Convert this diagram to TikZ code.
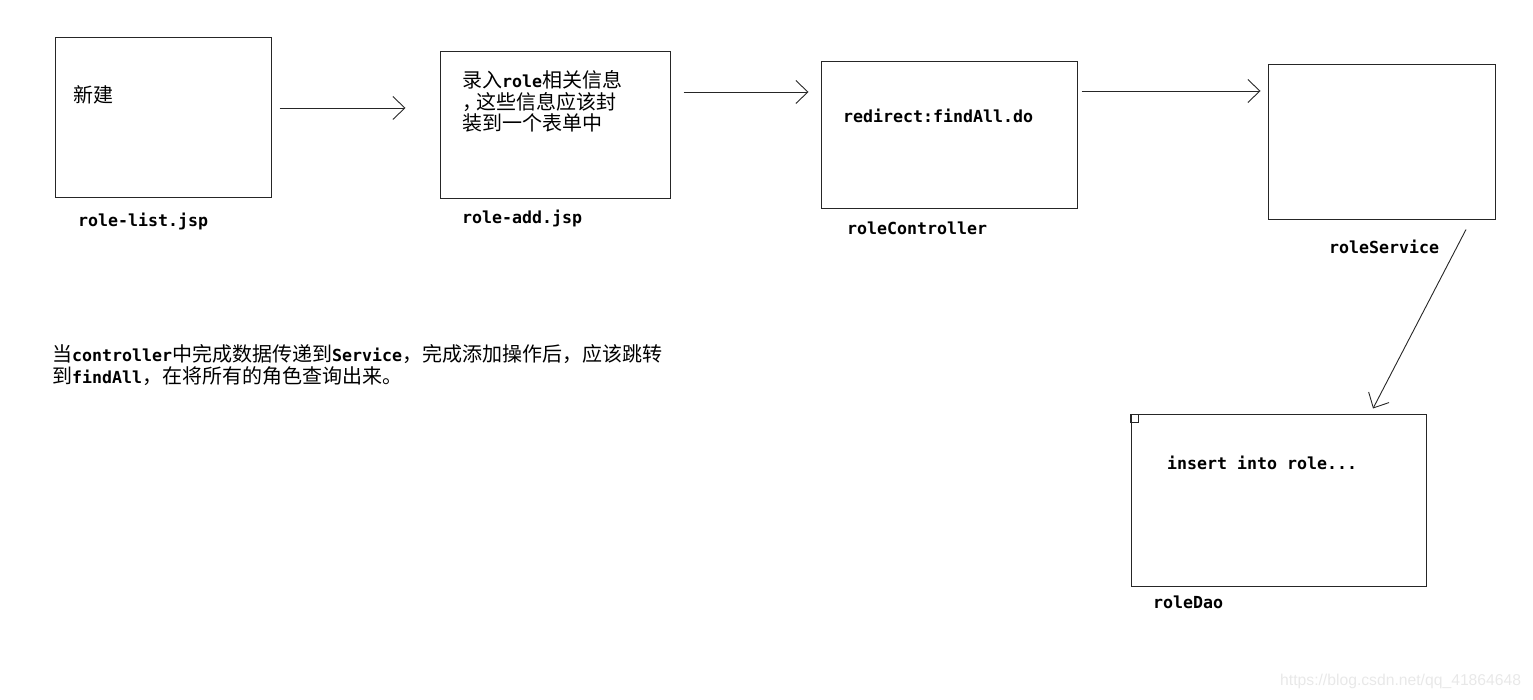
\documentclass[tikz,border=0pt]{standalone}
\usepackage{fontspec}
\setmainfont{Noto Sans CJK SC}
\newfontfamily\monofont{DejaVu Sans Mono}
\newfontfamily\markfont{Liberation Sans}
\newcommand\code[1]{{\monofont\bfseries\fontsize{16.6}{18}\selectfont #1}}
\usetikzlibrary{arrows.meta}

\begin{document}
\begin{tikzpicture}[x=1pt, y=1pt,
  box/.style={draw=black!85, line width=1pt, inner sep=0pt},
  flow/.style={draw=black!85, line width=0.9pt, -{Straight Barb[length=12pt, width=23pt]}},
  txt/.style={anchor=base west, inner sep=0pt, align=left, font=\fontsize{20}{21.5}\selectfont},
  lbl/.style={anchor=base west, inner sep=0pt, font=\monofont\bfseries\fontsize{16.6}{18}\selectfont}]
  \useasboundingbox (0,0) rectangle (1533,699);

  % Les boites
  \node[box, minimum width=216pt, minimum height=160pt] (list) at (163,581) {};
  \node[box, minimum width=230pt, minimum height=147pt] (add) at (555,573.5) {};
  \node[box, minimum width=256pt, minimum height=147pt] (ctrl) at (949,563.5) {};
  \node[box, minimum width=227pt, minimum height=155pt] (svc) at (1381.5,556.5) {};
  \node[box, minimum width=295pt, minimum height=171pt] (dao) at (1278.5,198.5) {};
  \draw[black!85, line width=0.8pt] (dao.north west) rectangle ([shift={(8,-8)}]dao.north west);

  % Textes dans les boites (base = derniere ligne)
  \node[txt] (listtxt) at (73,596.4) {新建};
  \node[txt] (addtxt) at (462,568.4) {录入\code{role}相关信息\\，\kern-6pt 这些信息应该封\\装到一个表单中};
  \node[lbl] (ctrltxt) at (843,576.3) {redirect:findAll.do};
  \node[lbl] (daotxt) at (1167,229) {insert into role...};

  % Noms sous les boites
  \node[lbl] (listname) at (78,472) {role-list.jsp};
  \node[lbl] (addname) at (462,475.7) {role-add.jsp};
  \node[lbl] (ctrlname) at (847,464) {roleController};
  \node[lbl] (svcname) at (1329,445.7) {roleService};
  \node[lbl] (daoname) at (1153,90.7) {roleDao};

  % Fleches
  \draw[flow] ([shift={(8,10)}]list.east) -- ([shift={(-34,17.5)}]add.west);
  \draw[flow] ([shift={(13,33.5)}]add.east) -- ([shift={(-12,43.5)}]ctrl.west);
  \draw[flow] ([shift={(4,44.5)}]ctrl.east) -- ([shift={(-7,51.5)}]svc.west);
  \draw[flow] ([shift={(84.5,-9)}]svc.south) -- ([shift={(94.5,6)}]dao.north);

  % Remarque
  \node[txt, font=\fontsize{20}{22}\selectfont] (note) at (52,315.5) {当\code{controller}中完成数据传递到\code{Service}，完成添加操作后，应该跳转\\到\code{findAll}，在将所有的角色查询出来。};

  \node[anchor=west, inner sep=0pt, text=black!9, font=\markfont\fontsize{15.7}{17}\selectfont] (mark) at (1280,18) {https://blog.csdn.net/qq\_41864648};
\end{tikzpicture}
\end{document}
